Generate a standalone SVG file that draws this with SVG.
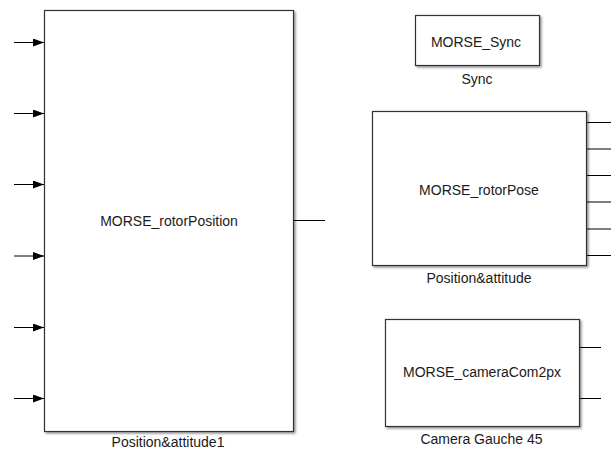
<svg xmlns="http://www.w3.org/2000/svg" width="611" height="451" viewBox="0 0 611 451">
<defs>
<filter id="sh" x="-5%" y="-5%" width="115%" height="115%">
<feDropShadow dx="1.5" dy="1.5" stdDeviation="1.2" flood-color="#000" flood-opacity="0.45"/>
</filter>
<marker id="arr" viewBox="0 0 11 8" refX="11" refY="4" markerWidth="11" markerHeight="8" markerUnits="userSpaceOnUse" orient="auto">
<path d="M0,0 L11,4 L0,8 Z" fill="#000"/>
</marker>
</defs>
<style>
.blk{fill:#fff;stroke:#333;stroke-width:1.2;filter:url(#sh)}
.t{font-family:"Liberation Sans",Arial,sans-serif;font-size:14px;fill:#1a1a1a;text-anchor:middle}
.ln{stroke:#000;stroke-width:1;fill:none}
</style>
<rect width="611" height="451" fill="#fff"/>
<g id="connectors">
<line class="ln" x1="14" y1="42.5" x2="44" y2="42.5" marker-end="url(#arr)"/>
<line class="ln" x1="14" y1="113.5" x2="44" y2="113.5" marker-end="url(#arr)"/>
<line class="ln" x1="14" y1="184.5" x2="44" y2="184.5" marker-end="url(#arr)"/>
<line class="ln" x1="14" y1="256" x2="44" y2="256" marker-end="url(#arr)"/>
<line class="ln" x1="14" y1="327.5" x2="44" y2="327.5" marker-end="url(#arr)"/>
<line class="ln" x1="14" y1="398.5" x2="44" y2="398.5" marker-end="url(#arr)"/>
<line class="ln" x1="293" y1="220.5" x2="325" y2="220.5"/>
<line class="ln" x1="587" y1="122.5" x2="611" y2="122.5"/>
<line class="ln" x1="587" y1="149" x2="611" y2="149"/>
<line class="ln" x1="587" y1="175.5" x2="611" y2="175.5"/>
<line class="ln" x1="587" y1="202" x2="611" y2="202"/>
<line class="ln" x1="587" y1="229" x2="611" y2="229"/>
<line class="ln" x1="587" y1="255.5" x2="611" y2="255.5"/>
<line class="ln" x1="579" y1="347.5" x2="601" y2="347.5"/>
<line class="ln" x1="579" y1="398.5" x2="601" y2="398.5"/>
</g>
<g id="rotorPosition">
<rect class="blk" x="44.5" y="10.5" width="249" height="421"/>
<text class="t" x="169" y="226">MORSE_rotorPosition</text>
<text class="t" x="168" y="447">Position&amp;attitude1</text>
</g>
<g id="sync">
<rect class="blk" x="415.5" y="15.5" width="124" height="50"/>
<text class="t" x="476" y="47">MORSE_Sync</text>
<text class="t" x="477" y="84">Sync</text>
</g>
<g id="rotorPose">
<rect class="blk" x="372.5" y="111.5" width="214" height="154"/>
<text class="t" x="479" y="195">MORSE_rotorPose</text>
<text class="t" x="479" y="283">Position&amp;attitude</text>
</g>
<g id="camera">
<rect class="blk" x="385.5" y="319.5" width="194" height="107"/>
<text class="t" x="482" y="377">MORSE_cameraCom2px</text>
<text class="t" x="481.5" y="444">Camera Gauche 45</text>
</g>
</svg>
